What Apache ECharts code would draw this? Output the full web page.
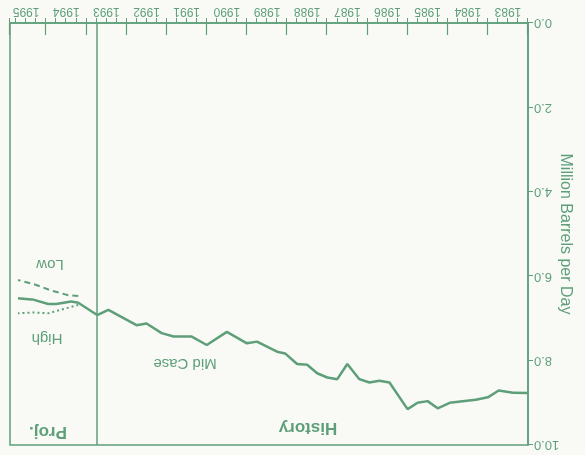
<!DOCTYPE html>
<html lang="en">
<head>
<meta charset="utf-8"/>
<title>Million Barrels per Day</title>
<script src="https://cdn.jsdelivr.net/npm/echarts@6/dist/echarts.min.js"></script>
<style>
    html, body { margin: 0; padding: 0; background: #f9faf6; }
    /* the original page is printed upside down */
    #chart { width: 585px; height: 455px; transform: rotate(180deg); }
</style>
</head>
<body>
<div id="chart"></div>
<script>
    // history
    const histYears = [1983.0, 1983.375, 1983.73, 1984.0, 1984.3, 1984.575, 1984.95, 1985.25, 1985.5, 1985.75,
        1986.0, 1986.45, 1986.7, 1986.95, 1987.2, 1987.5, 1987.75, 1988.0, 1988.25, 1988.5, 1988.75,
        1989.05, 1989.25, 1989.75, 1990.0, 1990.5, 1991.0, 1991.375, 1991.825, 1992.125, 1992.5, 1992.75,
        1993.45, 1993.73];
    const histValues = [8.77, 8.76, 8.71, 8.87, 8.93, 8.96, 9.00, 9.13, 8.96, 9.00,
        9.15, 8.52, 8.48, 8.52, 8.44, 8.08, 8.44, 8.40, 8.30, 8.10, 8.08,
        7.83, 7.79, 7.55, 7.59, 7.32, 7.63, 7.43, 7.43, 7.35, 7.12, 7.16,
        6.80, 6.92];
    const historyEnd = 1993.73;

    // projections
    const midYears = [1993.73, 1994.2, 1994.375, 1994.75, 1994.95, 1995.3, 1995.7];
    const midValues = [6.92, 6.63, 6.60, 6.66, 6.66, 6.56, 6.52];
    const lowYears = [1994.2, 1994.45, 1994.875, 1995.3, 1995.7];
    const lowValues = [6.47, 6.45, 6.34, 6.19, 6.09];
    const highYears = [1994.2, 1994.5, 1994.95, 1995.3, 1995.7];
    const highValues = [6.68, 6.76, 6.88, 6.86, 6.88];

    const xMin = 1983, xMax = 1995.9;
    const yTicks = [0, 2, 4, 6, 8, 10];

    const green = '#5e9f7a';
    const font = 'Liberation Sans';

    function pairs(xs, ys) {
        return xs.map(function (x, i) { return [x, ys[i]]; });
    }

    const chart = echarts.init(document.getElementById('chart'));
    const option = {
        backgroundColor: '#f9faf6',
        animation: false,
        textStyle: { fontFamily: font },
        grid: {
            left: 57, right: 10, top: 10, bottom: 23,
            outerBoundsMode: 'none', containLabel: false,
            show: true, borderColor: green, borderWidth: 1.5, backgroundColor: 'transparent'
        },
        xAxis: [{
            type: 'value', position: 'bottom', min: xMin, max: xMax, interval: 0.25,
            axisLine: { onZero: false, lineStyle: { color: green, width: 1.5 } },
            axisTick: { length: 5, lineStyle: { color: green, width: 1 } },
            axisLabel: {
                color: green, fontSize: 12, fontFamily: font, margin: 6,
                padding: [0, 0, 0, 40],   // year label sits in the middle of its year
                formatter: function (v) {
                    return Math.abs(v - Math.round(v)) < 1e-6 && v < 1996 ? String(Math.round(v)) : '';
                }
            },
            splitLine: { show: false }
        }, {
            type: 'value', position: 'bottom', min: xMin, max: xMax, interval: 1,
            axisLine: { show: false, onZero: false },
            axisTick: { inside: true, length: 12, lineStyle: { color: green, width: 1.2 } },
            axisLabel: { show: false },
            splitLine: { show: false }
        }],
        yAxis: {
            type: 'value', min: yTicks[0], max: yTicks[yTicks.length - 1], interval: 2,
            name: 'Million Barrels per Day', nameLocation: 'middle', nameRotate: 90, nameGap: 29,
            nameMoveOverlap: false,
            nameTextStyle: { color: green, fontSize: 16, fontFamily: font },
            axisLine: { show: true, lineStyle: { color: green, width: 1.5 } },
            axisTick: { show: true, length: 5, lineStyle: { color: green } },
            axisLabel: { color: green, fontSize: 13, fontFamily: font, margin: 6, formatter: function (v) { return v.toFixed(1); } },
            splitLine: { show: false }
        },
        series: [{
            name: 'History', type: 'line', data: pairs(histYears, histValues),
            symbol: 'none', lineStyle: { color: green, width: 2.5 },
            markLine: {
                silent: true, symbol: 'none', label: { show: false },
                lineStyle: { color: green, width: 1.5, type: 'solid' },
                data: [{ xAxis: historyEnd }]
            }
        }, {
            name: 'Mid Case', type: 'line', data: pairs(midYears, midValues),
            symbol: 'none', lineStyle: { color: green, width: 2.5 }
        }, {
            name: 'Low', type: 'line', data: pairs(lowYears, lowValues),
            symbol: 'none', lineStyle: { color: green, width: 2, type: [6, 4] }
        }, {
            name: 'High', type: 'line', data: pairs(highYears, highValues),
            symbol: 'none', lineStyle: { color: green, width: 2, type: [2, 3] }
        }],
        graphic: [
            { type: 'text', x: 535, y: 191, style: { text: 'Low', fill: green, font: '15px ' + font, align: 'center', verticalAlign: 'middle' } },
            { type: 'text', x: 538, y: 117, style: { text: 'High', fill: green, font: '15px ' + font, align: 'center', verticalAlign: 'middle' } },
            { type: 'text', x: 400, y: 92, style: { text: 'Mid Case', fill: green, font: '15px ' + font, align: 'center', verticalAlign: 'middle' } },
            { type: 'text', x: 277, y: 27, style: { text: 'History', fill: green, font: 'bold 17px ' + font, align: 'center', verticalAlign: 'middle' } },
            { type: 'text', x: 537, y: 23, style: { text: 'Proj.', fill: green, font: 'bold 17px ' + font, align: 'center', verticalAlign: 'middle' } }
        ]
    };
    chart.setOption(option);
</script>
</body>
</html>
